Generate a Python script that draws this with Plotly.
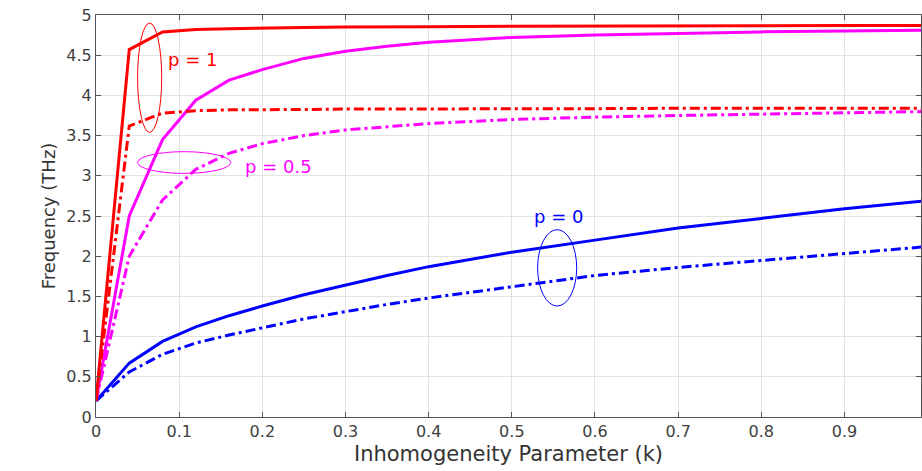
import plotly.graph_objects as go

# k values (inhomogeneity parameter)
k = [0, 0.04, 0.08, 0.12, 0.16, 0.2, 0.25, 0.3, 0.35, 0.4, 0.5, 0.6, 0.7, 0.8, 0.9, 1.0]

# Frequencies (THz)
p1_solid  = [0.2, 4.57, 4.79, 4.82, 4.83, 4.84, 4.845, 4.85, 4.85, 4.855, 4.86, 4.86, 4.865, 4.865, 4.87, 4.87]
p1_dash   = [0.2, 3.62, 3.78, 3.81, 3.82, 3.82, 3.825, 3.83, 3.83, 3.83, 3.835, 3.835, 3.84, 3.84, 3.84, 3.84]
p05_solid = [0.2, 2.50, 3.45, 3.94, 4.19, 4.32, 4.46, 4.55, 4.61, 4.66, 4.72, 4.75, 4.77, 4.79, 4.80, 4.81]
p05_dash  = [0.2, 2.00, 2.70, 3.08, 3.28, 3.40, 3.50, 3.57, 3.61, 3.65, 3.70, 3.73, 3.75, 3.77, 3.79, 3.80]
p0_solid  = [0.2, 0.67, 0.94, 1.12, 1.26, 1.38, 1.52, 1.64, 1.76, 1.87, 2.05, 2.20, 2.35, 2.47, 2.59, 2.69]
p0_dash   = [0.2, 0.56, 0.78, 0.92, 1.02, 1.11, 1.22, 1.31, 1.40, 1.48, 1.62, 1.76, 1.86, 1.95, 2.04, 2.12]

x_ticks = [0, 0.1, 0.2, 0.3, 0.4, 0.5, 0.6, 0.7, 0.8, 0.9, 1.0]
x_tick_labels = ["0", "0.1", "0.2", "0.3", "0.4", "0.5", "0.6", "0.7", "0.8", "0.9", "1"]
y_ticks = [0, 0.5, 1, 1.5, 2, 2.5, 3, 3.5, 4, 4.5, 5]
y_tick_labels = ["0", "0.5", "1", "1.5", "2", "2.5", "3", "3.5", "4", "4.5", "5"]

RED, MAG, BLUE = "#FF0000", "#FF00FF", "#0000FF"
DASHDOT = "10px,4px,3px,4px"

fig = go.Figure()
series = [
    (p0_dash, BLUE, DASHDOT), (p0_solid, BLUE, "solid"),
    (p05_dash, MAG, DASHDOT), (p05_solid, MAG, "solid"),
    (p1_dash, RED, DASHDOT), (p1_solid, RED, "solid"),
]
for y, c, d in series:
    fig.add_trace(go.Scatter(x=k, y=y, mode="lines",
                             line=dict(color=c, width=3, dash=d),
                             showlegend=False, hoverinfo="skip"))

# ellipses + labels
ellipses = [
    (0.050, 3.54, 0.079, 4.90, RED),
    (0.050, 3.03, 0.162, 3.30, MAG),
    (0.531, 1.38, 0.578, 2.33, BLUE),
]
for x0, y0, x1, y1, c in ellipses:
    fig.add_shape(type="circle", xref="x", yref="y", x0=x0, y0=y0, x1=x1, y1=y1,
                  line=dict(color=c, width=1))

labels = [("p = 1", 0.116, 4.45, RED), ("p = 0.5", 0.220, 3.12, MAG), ("p = 0", 0.556, 2.50, BLUE)]
for t, x, y, c in labels:
    fig.add_annotation(text=t, x=x, y=y, xref="x", yref="y", showarrow=False,
                       font=dict(family="DejaVu Sans", size=18, color=c))

axis_common = dict(
    showgrid=True, gridcolor="#e3e3e3", gridwidth=1,
    showline=True, linecolor="#555555", linewidth=1, mirror="ticks",
    ticks="inside", ticklen=5, tickcolor="#555555",
    tickfont=dict(family="DejaVu Sans", size=16, color="#404040"),
    zeroline=False,
)
fig.update_xaxes(range=[0, 0.992], tickvals=x_ticks, ticktext=x_tick_labels,
                 title=dict(text="Inhomogeneity Parameter (k)", standoff=6,
                            font=dict(family="DejaVu Sans", size=21, color="#333333")),
                 **axis_common)
fig.update_yaxes(range=[0, 5], tickvals=y_ticks, ticktext=y_tick_labels,
                 title=dict(text="Frequency (THz)", standoff=6,
                            font=dict(family="DejaVu Sans", size=18, color="#333333")),
                 **axis_common)

fig.update_layout(
    width=922, height=471,
    margin=dict(l=96, r=1, t=15, b=54),
    plot_bgcolor="white", paper_bgcolor="white",
)
fig.write_html("out.html")
